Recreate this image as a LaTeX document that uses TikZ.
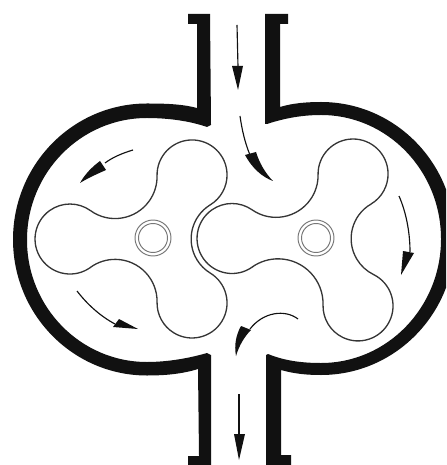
\documentclass[tikz,border=0pt]{standalone}
\usepackage{xcolor}
\definecolor{ink}{HTML}{111111}
\definecolor{ringgrey}{HTML}{777777}
\tikzset{
  casing/.style={fill=ink, draw=none},
  rotor/.style={draw=ink!85, line width=0.75pt},
  ringline/.style={draw=ringgrey, line width=0.55pt},
  flowline/.style={draw=ink, line width=0.65pt},
  flowhead/.style={fill=ink, draw=none},
}
\begin{document}
\begin{tikzpicture}[x=0.02cm, y=-0.02cm]
  \useasboundingbox (0,0) rectangle (446,465);
  \clip (0,0) rectangle (446,465);

  % Casing, left half
  \fill[casing] (188,14) -- (210,14) -- (211,125) -- (207,127)
    .. controls (190,121) and (168,118) .. (147,118)
    arc[start angle=-90, end angle=-270, x radius=120, y radius=122]
    .. controls (168,362) and (190,358) .. (207,353)
    -- (211,355) -- (211,465) -- (188,465) -- (188,456) -- (199,456) -- (198,369)
    .. controls (182,374) and (165,375.5) .. (147,375.5)
    arc[start angle=90, end angle=270, x radius=134, y radius=136]
    .. controls (165,103.5) and (182,104) .. (197,108)
    -- (197,24) -- (188,24) -- cycle;

  % Casing, right half
  \fill[casing] (288,14) -- (265,14) -- (265,124) -- (267,124)
    .. controls (285,118) and (303,115) .. (321,115)
    arc[start angle=-90, end angle=90, x radius=120, y radius=124]
    .. controls (303,363) and (285,361) .. (268,354)
    -- (266,355) -- (266,465) -- (291,465) -- (291,455) -- (281,455) -- (281,370)
    .. controls (295,374) and (308,375) .. (321,375)
    arc[start angle=90, end angle=-90, x radius=134, y radius=136.5]
    .. controls (308,102) and (293,103) .. (280,107)
    -- (280,24) -- (288,24) -- cycle;

  % Left rotor
  \draw[rotor] (90.5,267.4)
    arc[start angle=54.2, end angle=305.8, radius=35]
    arc[start angle=125.8, end angle=-1.2, radius=42]
    arc[start angle=178.8, end angle=418.6, radius=35]
    arc[start angle=238.6, end angle=121.4, radius=40]
    arc[start angle=-58.6, end angle=181.2, radius=35]
    arc[start angle=1.2, end angle=-125.8, radius=42] -- cycle;

  % Right rotor
  \draw[rotor] (252.2,267.1)
    arc[start angle=54.8, end angle=304.9, radius=35]
    arc[start angle=124.9, end angle=-1, radius=42]
    arc[start angle=179, end angle=419.5, radius=35]
    arc[start angle=239.5, end angle=116.2, radius=40]
    arc[start angle=-63.8, end angle=181.5, radius=35]
    arc[start angle=1.5, end angle=-125.2, radius=45] -- cycle;

  % Shaft rings
  \foreach \cx in {153,316} {
    \draw[ringline] (\cx,238) circle[radius=18];
    \draw[ringline] (\cx,238) circle[radius=14.5];
  }

  % Flow arrows
  \draw[flowline] (237,25) -- (238,67);
  \fill[flowhead] (232,66) -- (243,66) -- (238,90) -- cycle;

  \draw[flowline] (240,116) .. controls (242,130) and (245,143) .. (250,155);
  \fill[flowhead] (245,155) -- (256,152) .. controls (259,162) and (265,173) .. (273,181)
    .. controls (262,177) and (252,168) .. (245,155) -- cycle;

  \draw[flowline] (133,150) .. controls (123,153) and (113,157) .. (105,163);
  \fill[flowhead] (100,161) -- (106,170) .. controls (97,174) and (88,178) .. (80,183)
    .. controls (85,174) and (92,167) .. (100,161) -- cycle;

  \draw[flowline] (77,291) .. controls (87,304) and (100,316) .. (115,324);
  \fill[flowhead] (119,319) -- (113,327) -- (138,329) -- cycle;

  \draw[flowline] (399,196) .. controls (406,212) and (410,232) .. (410,252);
  \fill[flowhead] (403,251) -- (414,253) -- (401,275) -- cycle;

  \draw[flowline] (298,319) .. controls (285,309) and (263,312) .. (250,329);
  \fill[flowhead] (241,326) -- (251,330) .. controls (244,337) and (239,346) .. (236,356)
    .. controls (234,345) and (236,335) .. (241,326) -- cycle;

  \draw[flowline] (239,394) -- (239,435);
  \fill[flowhead] (234,434) -- (245,434) -- (239,460) -- cycle;
\end{tikzpicture}
\end{document}
